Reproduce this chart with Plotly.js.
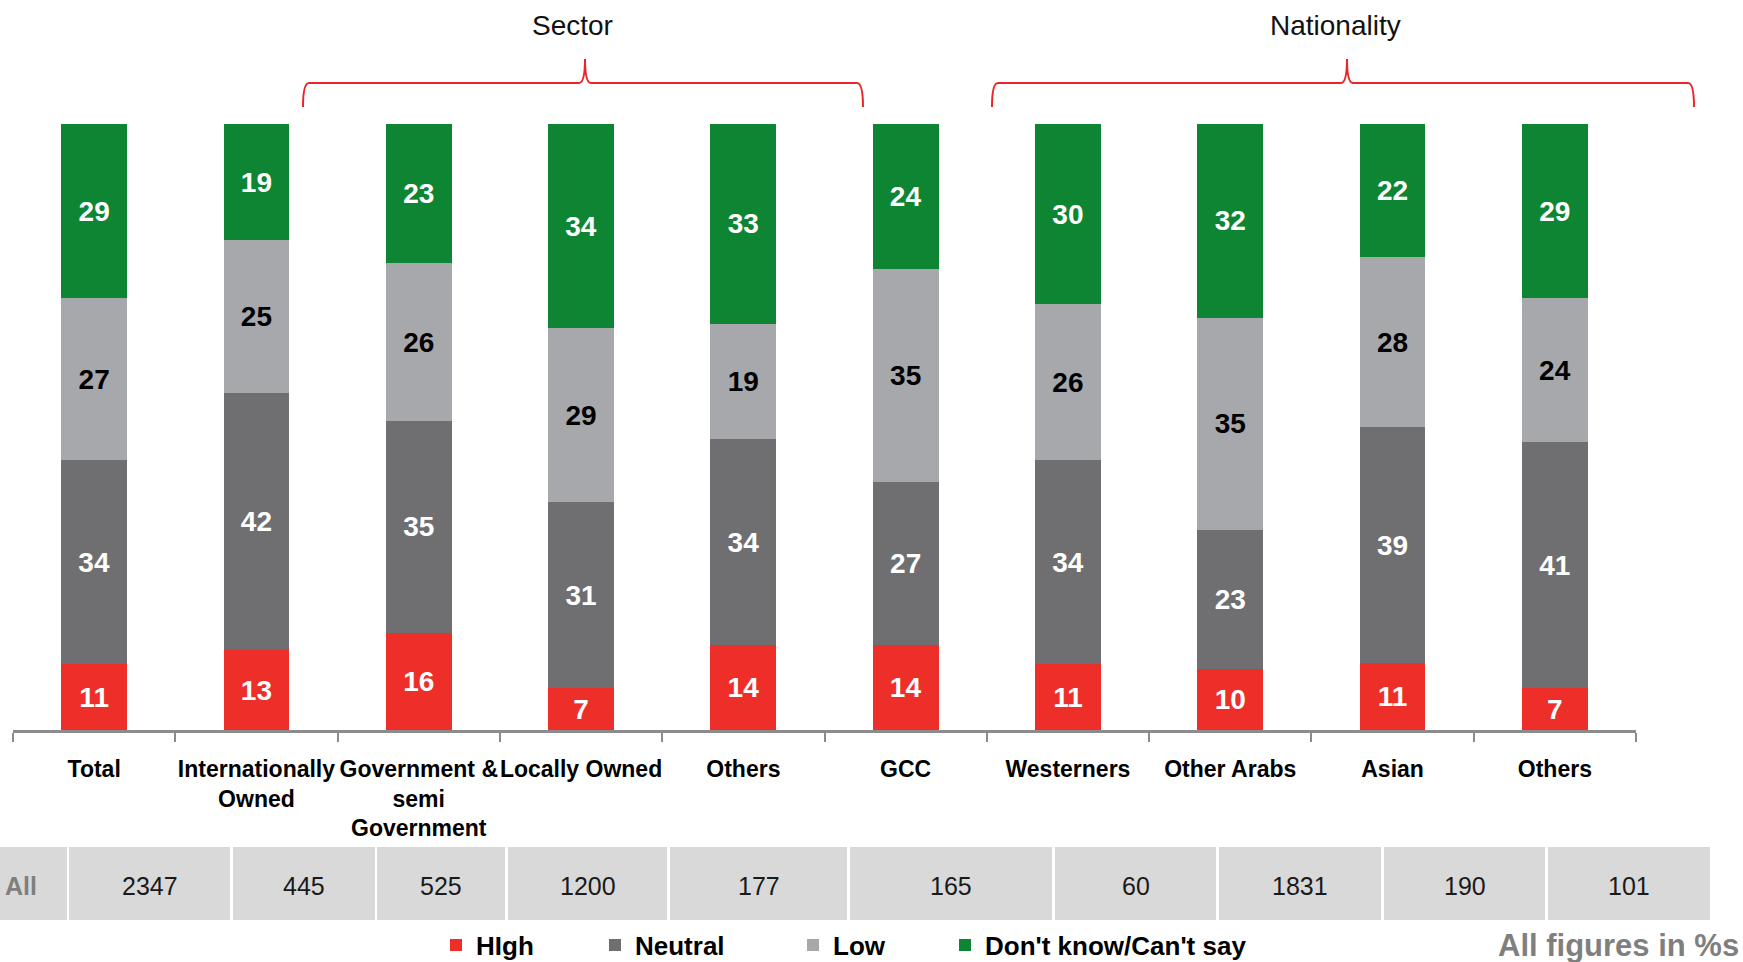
<!DOCTYPE html>
<html>
<head>
<meta charset="utf-8">
<script src="https://cdn.plot.ly/plotly-3.0.1.min.js"></script>
<style>html,body{margin:0;padding:0;background:#fff;}#chart{width:1743px;height:962px;}</style>
</head>
<body>
<div id="chart"></div>
<script>
// ---- data ----
const categoryKeys = ['total','intl','gov','local','secOthers','gcc','west','otherArabs','asian','natOthers'];
const categoryLabels = ['Total','Internationally<br>Owned','Government &<br>semi<br>Government','Locally Owned','Others','GCC','Westerners','Other Arabs','Asian','Others'];
const high = [11,13,16,7,14,14,11,10,11,7];
const neutral = [34,42,35,31,34,27,34,23,39,41];
const low = [27,25,26,29,19,35,26,35,28,24];
const dontKnow = [29,19,23,34,33,24,30,32,22,29];
const seriesNames = ['HIgh','Neutral','Low',"Don't know/Can't say"];
const sampleLabel = 'All';
const sampleSizes = [2347,445,525,1200,177,165,60,1831,190,101];
const groupTitles = ['Sector','Nationality'];
const footNote = 'All figures in %s';

// ---- layout helpers (pixel -> paper) ----
const L = 13, R = 1636, T = 124, B = 730;
const px = x => (x - L) / (R - L);
const py = y => (B - y) / (B - T);

const colors = ['#ee2e29','#6f6f71','#a7a8ab','#0e8533'];
const textColors = ['#ffffff','#ffffff','#000000','#ffffff'];
const values = [high, neutral, low, dontKnow];
const legendIds = ['legend','legend2','legend3','legend4'];
const legendX = [436, 595, 793, 945];

const traces = values.map((v, i) => ({
  type: 'bar',
  name: seriesNames[i],
  legend: legendIds[i],
  x: categoryKeys,
  y: v,
  text: v.map(String),
  textposition: 'inside',
  insidetextanchor: 'middle',
  textangle: 0,
  constraintext: 'none',
  textfont: {family: 'Liberation Sans, Arial, sans-serif', size: 28, color: textColors[i], weight: 'bold'},
  marker: {color: colors[i], line: {width: 0}},
  hoverinfo: 'skip'
}));

// table column edges (pixels)
const colEdges = [[0,67],[69,230],[233,375],[377,505],[508,667],[670,847],[850,1052],[1055,1216],[1219,1381],[1384,1545],[1548,1710]];
const tableTop = 847, tableBot = 920, tableMid = 886;

const shapes = [];
const annotations = [];
colEdges.forEach(([a, b]) => {
  shapes.push({type: 'rect', xref: 'paper', yref: 'paper', x0: px(a), x1: px(b), y0: py(tableBot), y1: py(tableTop),
    fillcolor: '#d9d9d9', line: {width: 0}, layer: 'below'});
});
annotations.push({xref: 'paper', yref: 'paper', x: px(3), y: py(tableMid), xanchor: 'left', yanchor: 'middle',
  text: sampleLabel, showarrow: false, font: {family: 'Liberation Sans, Arial', size: 25, color: '#7f7f7f', weight: 'bold'}});
sampleSizes.forEach((n, i) => {
  const [a, b] = colEdges[i + 1];
  annotations.push({xref: 'paper', yref: 'paper', x: px((a + b) / 2), y: py(tableMid), xanchor: 'center', yanchor: 'middle',
    text: String(n), showarrow: false, font: {family: 'Liberation Sans, Arial', size: 25, color: '#1a1a1a'}});
});

// braces
function brace(x1, xm, x2, yEnd, yH, yPeak) {
  const r = 6;
  const P = (x, y) => px(x).toFixed(5) + ',' + py(y).toFixed(5);
  return 'M' + P(x1, yEnd) + ' Q' + P(x1, yH) + ' ' + P(x1 + r, yH) + ' L' + P(xm - r, yH) +
    ' Q' + P(xm, yH) + ' ' + P(xm, yPeak) + ' Q' + P(xm, yH) + ' ' + P(xm + r, yH) +
    ' L' + P(x2 - r, yH) + ' Q' + P(x2, yH) + ' ' + P(x2, yEnd);
}
shapes.push({type: 'path', xref: 'paper', yref: 'paper', path: brace(303, 585, 863, 107, 83, 59), line: {color: '#e8262a', width: 2}});
shapes.push({type: 'path', xref: 'paper', yref: 'paper', path: brace(992, 1347, 1694, 107, 83, 59), line: {color: '#e8262a', width: 2}});
annotations.push({xref: 'paper', yref: 'paper', x: px(572), y: py(25), xanchor: 'center', yanchor: 'middle',
  text: groupTitles[0], showarrow: false, font: {family: 'Liberation Sans, Arial', size: 28, color: '#111'}});
annotations.push({xref: 'paper', yref: 'paper', x: px(1335), y: py(25), xanchor: 'center', yanchor: 'middle',
  text: groupTitles[1], showarrow: false, font: {family: 'Liberation Sans, Arial', size: 28, color: '#111'}});
annotations.push({xref: 'paper', yref: 'paper', x: px(1741), y: py(946), xanchor: 'right', yanchor: 'middle',
  text: footNote, showarrow: false, font: {family: 'Liberation Sans, Arial', size: 31, color: '#7f7f7f', weight: 'bold'}});

const layout = {
  width: 1743, height: 962,
  margin: {l: L, r: 1743 - R, t: T, b: 962 - B, pad: 0, autoexpand: false},
  paper_bgcolor: '#ffffff', plot_bgcolor: '#ffffff',
  barmode: 'stack', barnorm: 'percent', bargap: 0.595,
  showlegend: true,
  xaxis: {type: 'category', categoryorder: 'array', categoryarray: categoryKeys,
    tickmode: 'array', tickvals: categoryKeys, ticktext: categoryLabels, tickson: 'boundaries',
    tickangle: 0, automargin: false, ticklabelstandoff: 16,
    ticks: 'outside', ticklen: 9, tickwidth: 2, tickcolor: '#8c8c8c',
    showline: true, linewidth: 3, linecolor: '#8c8c8c', showgrid: false, zeroline: false,
    range: [-0.5, 9.5], fixedrange: true,
    tickfont: {family: 'Liberation Sans, Arial', size: 23, color: '#000', weight: 'bold'}},
  yaxis: {visible: false, range: [0, 100], fixedrange: true, showgrid: false, zeroline: false, automargin: false},
  shapes: shapes,
  annotations: annotations
};
legendIds.forEach((id, i) => {
  layout[id] = {orientation: 'h', x: px(legendX[i]), y: py(945), xanchor: 'left', yanchor: 'middle',
    font: {family: 'Liberation Sans, Arial', size: 26, color: '#000', weight: 'bold'},
    bgcolor: 'rgba(0,0,0,0)', borderwidth: 0, itemclick: false, itemdoubleclick: false, itemwidth: 30};
});

Plotly.newPlot('chart', traces, layout, {displayModeBar: false, staticPlot: true});
</script>
</body>
</html>
